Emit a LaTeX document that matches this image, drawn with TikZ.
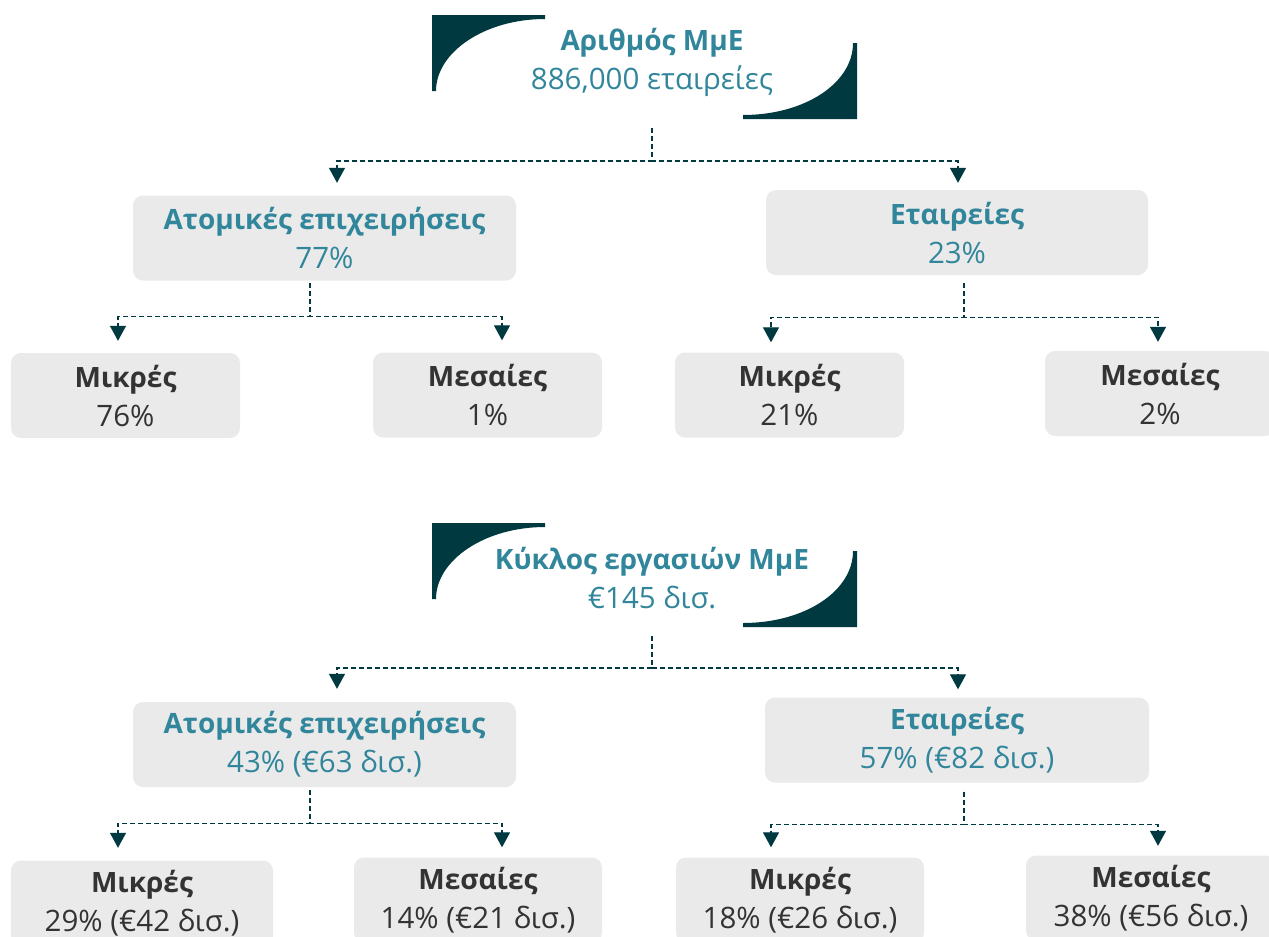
\documentclass[tikz,border=0pt]{standalone}
\usepackage{fontspec}
\setmainfont{Open Sans}
\usetikzlibrary{arrows.meta, positioning}
\definecolor{hdrdark}{RGB}{0,58,64}
\definecolor{tealtext}{RGB}{49,134,155}
\definecolor{boxgray}{RGB}{234,234,234}
\definecolor{valtext}{RGB}{51,51,51}
\newcommand\valline[1]{{\fontsize{29.5}{39}\selectfont #1}}

\begin{document}
\begin{tikzpicture}[x=1pt, y=-1pt,
    header/.style={align=center, text=tealtext, font=\fontsize{28}{39}\selectfont},
    tier/.style={fill=boxgray, rounded corners=10pt, align=center, inner sep=0pt, minimum height=85pt, font=\fontsize{28}{39}\selectfont},
    mid/.style={tier, text=tealtext},
    leaf/.style={tier, text=valtext},
    link/.style={draw=hdrdark, line width=1.3pt, dash pattern=on 5pt off 3pt, -{Triangle[width=16pt, length=15pt]}}
]
    \useasboundingbox (0,0) rectangle (1269,937);

    % Header corners
    \fill[hdrdark] (432,15) -- (545,15) -- (545,19) .. controls (485,19) and (436,52) .. (436,91) -- (432,91) -- cycle;
    \fill[hdrdark] (857,43) -- (857,119) -- (743,119) -- (743,115) .. controls (805,115) and (853,83) .. (853,43) -- cycle;
    \fill[hdrdark, shift={(0,508)}] (432,15) -- (545,15) -- (545,19) .. controls (485,19) and (436,52) .. (436,91) -- (432,91) -- cycle;
    \fill[hdrdark, shift={(0,508)}] (857,43) -- (857,119) -- (743,119) -- (743,115) .. controls (805,115) and (853,83) .. (853,43) -- cycle;

    % Number of SMEs
    \node[header] (numhdr) at (652,62) {\textbf{Αριθμός ΜμΕ}\\\valline{886,000 εταιρείες}};
    \coordinate (numstem) at (652,128);

    \node[mid, minimum width=383pt] (numindiv) at (324.5,238) {\textbf{Ατομικές επιχειρήσεις}\\\valline{77\%}};
    \node[mid, minimum width=382pt] (numcomp)  at (957,232.5) {\textbf{Εταιρείες}\\\valline{23\%}};

    \node[leaf, minimum width=229pt] (numindivsmall) at (125.5,395.5) {\textbf{Μικρές}\\\valline{76\%}};
    \node[leaf, minimum width=229pt] (numindivmed)   at (487.5,395)   {\textbf{Μεσαίες}\\\valline{1\%}};
    \node[leaf, minimum width=229pt] (numcompsmall)  at (789.5,395)   {\textbf{Μικρές}\\\valline{21\%}};
    \node[leaf, minimum width=230pt] (numcompmed)    at (1160,393.5)  {\textbf{Μεσαίες}\\\valline{2\%}};

    % Turnover of SMEs
    \node[header] (turnhdr) at (652,578) {\textbf{Κύκλος εργασιών ΜμΕ}\\\valline{€145 δισ.}};
    \coordinate (turnstem) at (652,636);

    \node[mid, minimum width=383pt] (turnindiv) at (324.5,744.5) {\textbf{Ατομικές επιχειρήσεις}\\\valline{43\% (€63 δισ.)}};
    \node[mid, minimum width=384pt] (turncomp)  at (957,740)     {\textbf{Εταιρείες}\\\valline{57\% (€82 δισ.)}};

    \node[leaf, minimum width=262pt] (turnindivsmall) at (142,903) {\textbf{Μικρές}\\\valline{29\% (€42 δισ.)}};
    \node[leaf, minimum width=248pt] (turnindivmed)   at (478,900) {\textbf{Μεσαίες}\\\valline{14\% (€21 δισ.)}};
    \node[leaf, minimum width=248pt] (turncompsmall)  at (800,900) {\textbf{Μικρές}\\\valline{18\% (€26 δισ.)}};
    \node[leaf, minimum width=250pt] (turncompmed)    at (1151,898) {\textbf{Μεσαίες}\\\valline{38\% (€56 δισ.)}};

    % Arrows
    \draw[link] (numstem) -- ++(0,33) -| ([xshift=12.5pt, yshift=12.5pt]numindiv.north);
    \draw[link] (numstem) -- ++(0,33) -| ([xshift=1pt, yshift=7pt]numcomp.north);

    \draw[link] ([xshift=-14.5pt, yshift=-2pt]numindiv.south) -- ++(0,34) -| ([xshift=-7.5pt, yshift=12pt]numindivsmall.north);
    \draw[link] ([xshift=-14.5pt, yshift=-2pt]numindiv.south) -- ++(0,34) -| ([xshift=14.5pt, yshift=12pt]numindivmed.north);
    \draw[link] ([xshift=7pt, yshift=-8pt]numcomp.south) -- ++(0,34) -| ([xshift=-18.5pt, yshift=10pt]numcompsmall.north);
    \draw[link] ([xshift=7pt, yshift=-8pt]numcomp.south) -- ++(0,34) -| ([xshift=-2pt, yshift=9pt]numcompmed.north);

    \draw[link] (turnstem) -- ++(0,32) -| ([xshift=12.5pt, yshift=13pt]turnindiv.north);
    \draw[link] (turnstem) -- ++(0,32) -| ([xshift=1pt, yshift=8pt]turncomp.north);

    \draw[link] ([xshift=-14.5pt, yshift=-3pt]turnindiv.south) -- ++(0,33) -| ([xshift=-24pt, yshift=12.5pt]turnindivsmall.north);
    \draw[link] ([xshift=-14.5pt, yshift=-3pt]turnindiv.south) -- ++(0,33) -| ([xshift=24pt, yshift=10pt]turnindivmed.north);
    \draw[link] ([xshift=7pt, yshift=-9pt]turncomp.south) -- ++(0,33) -| ([xshift=-29pt, yshift=10pt]turncompsmall.north);
    \draw[link] ([xshift=7pt, yshift=-9pt]turncomp.south) -- ++(0,33) -| ([xshift=7pt, yshift=9.5pt]turncompmed.north);
\end{tikzpicture}
\end{document}
